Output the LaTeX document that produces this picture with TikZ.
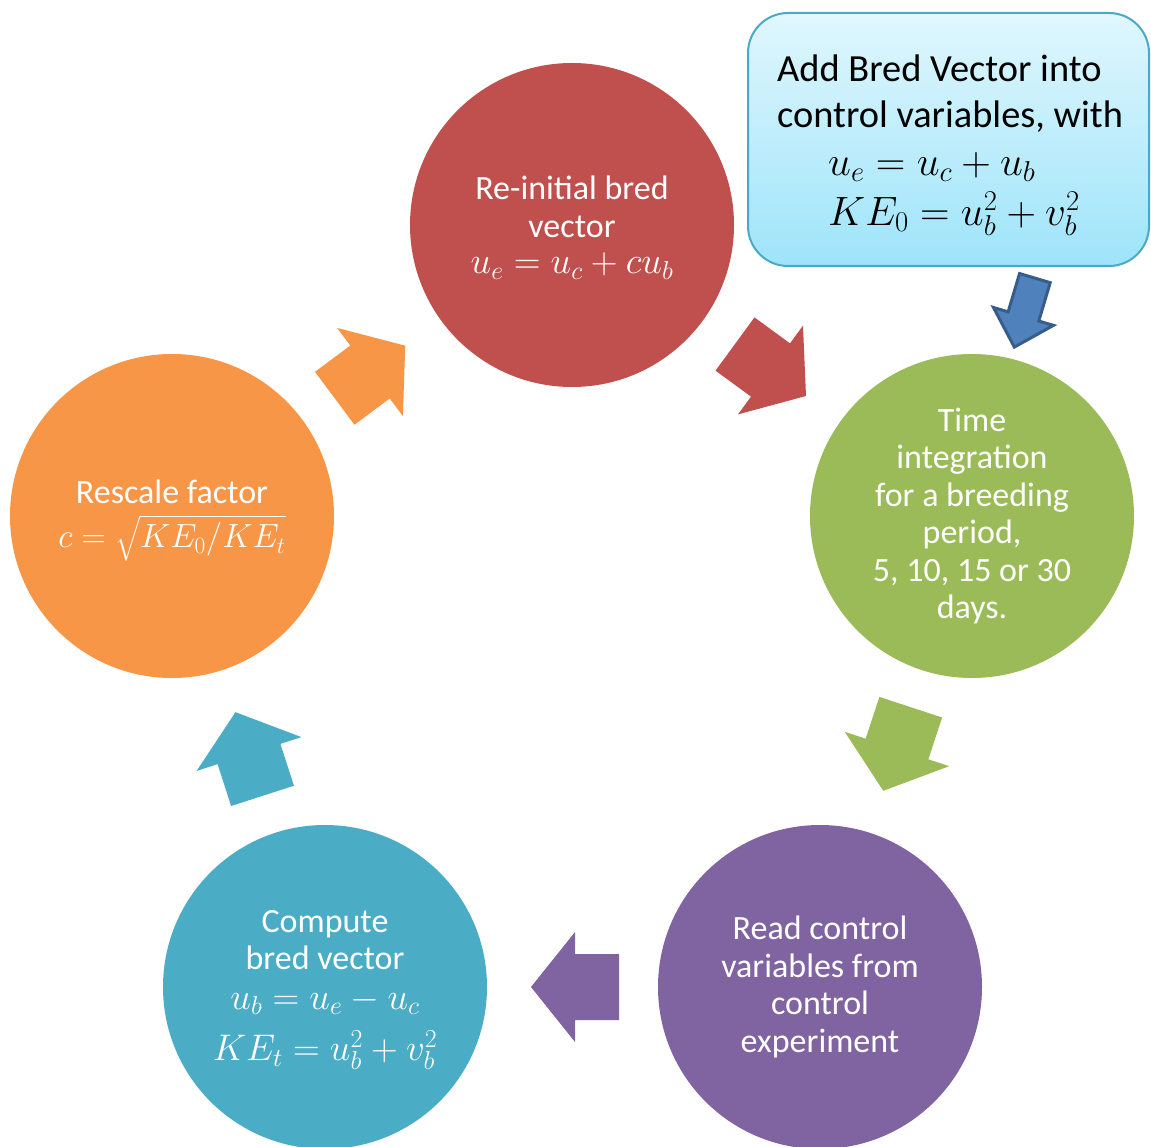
\RequirePackage{fix-cm}
\documentclass[tikz,border=0pt]{standalone}
\usepackage[no-math]{fontspec}
\setmainfont{Carlito}
\usepackage{amsmath}
\newcommand\circfont{\fontsize{34}{37.5}\selectfont}
\newcommand\callfont{\fontsize{38.4}{46}\selectfont}
\newcommand\cmathfont{\fontsize{37}{37.5}\selectfont}
\newcommand\smathfont{\fontsize{33.5}{37.5}\selectfont}
\newcommand\kmathfont{\fontsize{41}{46}\selectfont}
\definecolor{cred}{HTML}{C0504D}
\definecolor{cgreen}{HTML}{9BBB59}
\definecolor{cpurple}{HTML}{8064A2}
\definecolor{cteal}{HTML}{4BACC6}
\definecolor{corange}{HTML}{F79646}
\definecolor{calltop}{RGB}{224,247,253}
\definecolor{callbot}{RGB}{158,228,250}
\definecolor{callborder}{RGB}{75,168,198}
\definecolor{arrfill}{HTML}{4F81BD}
\definecolor{arrline}{HTML}{385D8A}
\tikzset{
  circ/.style={circle, minimum size=324pt, inner sep=0pt, text=white, align=center, font=\circfont},
  ctext/.style={inner sep=0pt, text=white, align=center, font=\circfont},
  cmath/.style={inner sep=0pt, text=white, font=\cmathfont},
  kmath/.style={inner sep=0pt, anchor=west, font=\kmathfont},
  blockarrow/.pic={\fill[#1] (-44,33) -- (0,33) -- (0,55) -- (44,0) -- (0,-55) -- (0,-33) -- (-44,-33) -- cycle;},
}
\begin{document}
\begin{tikzpicture}[x=1pt,y=-1pt]
\useasboundingbox (0,0) rectangle (1151,1147);
\clip (0,0) rectangle (1151,1147);
% circles
\node[circ, fill=cred] (red) at (572,225) {};
\node[ctext] (redtxt) at (572,207) {Re-initial bred\\vector};
\node[cmath] (redmath) at (572,266) {$u_e = u_c + c u_b$};
\node[circ, fill=cgreen] (green) at (972,516) {Time\\integration\\for a breeding\\period,\\5, 10, 15 or 30\\days.};
\node[circ, fill=cpurple] (purple) at (820,987) {Read control\\variables from\\control\\experiment};
\node[circ, fill=cteal] (blue) at (325,987) {};
\node[ctext] (bluetxt) at (325,940) {Compute\\bred vector};
\node[cmath] (bluem1) at (325,1001) {$u_b = u_e - u_c$};
\node[cmath] (bluem2) at (325,1050) {$KE_t = u_b^2 + v_b^2$};
\node[circ, fill=corange] (orange) at (172,516) {};
\node[ctext] (orangetxt) at (172,492) {Rescale factor};
\node[cmath, font=\smathfont] (orangemath) at (172,538) {$c = \sqrt{KE_0/KE_t}$};
% block arrows between circles
\pic[shift={(770.5,370)}, rotate=-36.2] {blockarrow=cred};
\pic[shift={(897,749)}, rotate=-108.2] {blockarrow=cgreen};
\pic[shift={(575,987)}, rotate=180] {blockarrow=cpurple};
\pic[shift={(249,754)}, rotate=107.9] {blockarrow=cteal};
\pic[shift={(370,372)}, rotate=36.7] {blockarrow=corange};
% callout box
\draw[callborder, line width=2pt, rounded corners=40pt, top color=calltop, bottom color=callbot]
  (748,13) rectangle (1149,266);
\node[anchor=west, align=left, font=\callfont, inner sep=0pt] (calltext) at (777,94) {Add Bred Vector into\\control variables, with};
\node[kmath] (callm1) at (828,167) {$u_e = u_c + u_b$};
\node[kmath] (callm2) at (828,214) {$KE_0 = u_b^2 + v_b^2$};
% callout arrow
\begin{scope}[shift={(1024.6,312.6)}, rotate=-106.6]
\draw[arrline, line width=3pt, fill=arrfill, line join=miter] (-36,16) -- (4,16) -- (4,31.3) -- (36,0) -- (4,-31.3) -- (4,-16) -- (-36,-16) -- cycle;
\end{scope}
\end{tikzpicture}
\end{document}
